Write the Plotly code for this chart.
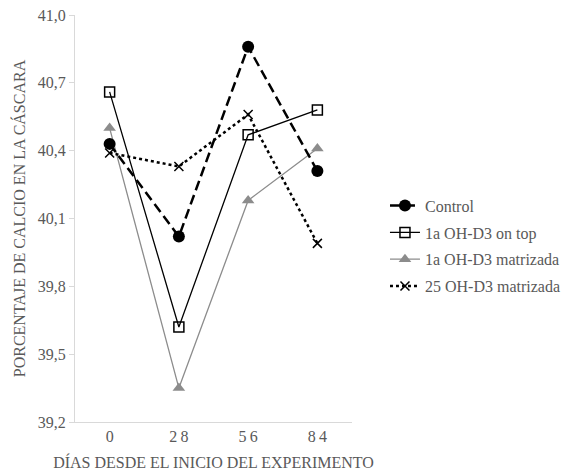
import plotly.graph_objects as go

dias = ["0", "28", "56", "84"]
dias_labels = ["0", "2\u20098", "5\u20096", "8\u20094"]
control = [40.43, 40.02, 40.86, 40.31]
on_top = [40.66, 39.62, 40.47, 40.58]
matrizada_1a = [40.50, 39.35, 40.18, 40.41]
matrizada_25 = [40.39, 40.33, 40.56, 39.99]
y_ticks = [39.2, 39.5, 39.8, 40.1, 40.4, 40.7, 41.0]
y_tick_labels = ["39,2", "39,5", "39,8", "40,1", "40,4", "40,7", "41,0"]

FONT = "Liberation Serif"
TXT = "#595959"

fig = go.Figure()
fig.add_trace(go.Scatter(
    x=dias, y=on_top, name="1a OH-D3 on top", mode="lines+markers",
    legendgroup="b", legendrank=2,
    line=dict(color="black", width=1.3),
    marker=dict(symbol="square-open", size=10, color="black", line=dict(width=1.5))))
fig.add_trace(go.Scatter(
    x=dias, y=matrizada_1a, name="1a OH-D3 matrizada", mode="lines+markers",
    legendgroup="c", legendrank=3,
    line=dict(color="#8c8c8c", width=1.3),
    marker=dict(symbol="triangle-up", size=11, color="#8c8c8c")))
fig.add_trace(go.Scatter(
    x=dias, y=matrizada_25, name="25 OH-D3 matrizada", mode="lines+markers",
    legendgroup="d", legendrank=4,
    line=dict(color="black", width=2.5, dash="dot"),
    marker=dict(symbol="x-thin", size=9, color="black", line=dict(width=1.5, color="black"))))
fig.add_trace(go.Scatter(
    x=dias, y=control, name="Control", mode="lines+markers",
    legendgroup="a", legendrank=1,
    line=dict(color="black", width=2.5, dash="10px,5px"),
    marker=dict(symbol="circle", size=12, color="black")))

fig.update_layout(
    width=564, height=467,
    margin=dict(l=67, r=219, t=7, b=53),
    paper_bgcolor="white", plot_bgcolor="white",
    font=dict(family=FONT, color=TXT, size=16),
    legend=dict(x=1.115, y=0.432, xanchor="left", yanchor="middle",
                traceorder="grouped", tracegroupgap=3,
                font=dict(size=16, color=TXT, family=FONT),
                itemwidth=30),
    showlegend=True,
)

fig.update_xaxes(
    type="category", categoryorder="array", categoryarray=dias,
    tickvals=dias, ticktext=dias_labels,
    range=[-0.5, 3.5], showline=True, linecolor="#d9d9d9", linewidth=1,
    showgrid=False, ticks="", automargin=False, ticklabeloverflow="allow",
    tickfont=dict(size=16, color=TXT, family=FONT),
    title=dict(text="DÍAS DESDE EL INICIO DEL EXPERIMENTO",
               font=dict(size=16, color=TXT, family=FONT), standoff=12),
    zeroline=False)
fig.update_yaxes(
    range=[39.2, 41.0], tickvals=y_ticks, ticktext=y_tick_labels,
    showline=True, linecolor="#d9d9d9", linewidth=1, showgrid=False,
    ticks="outside", ticklen=5, tickcolor="#d9d9d9", automargin=False,
    ticklabeloverflow="allow",
    tickfont=dict(size=16, color=TXT, family=FONT),
    title=dict(text="PORCENTAJE DE CALCIO EN LA CÁSCARA",
               font=dict(size=16, color=TXT, family=FONT), standoff=8),
    zeroline=False)

fig.write_html("out.html")
